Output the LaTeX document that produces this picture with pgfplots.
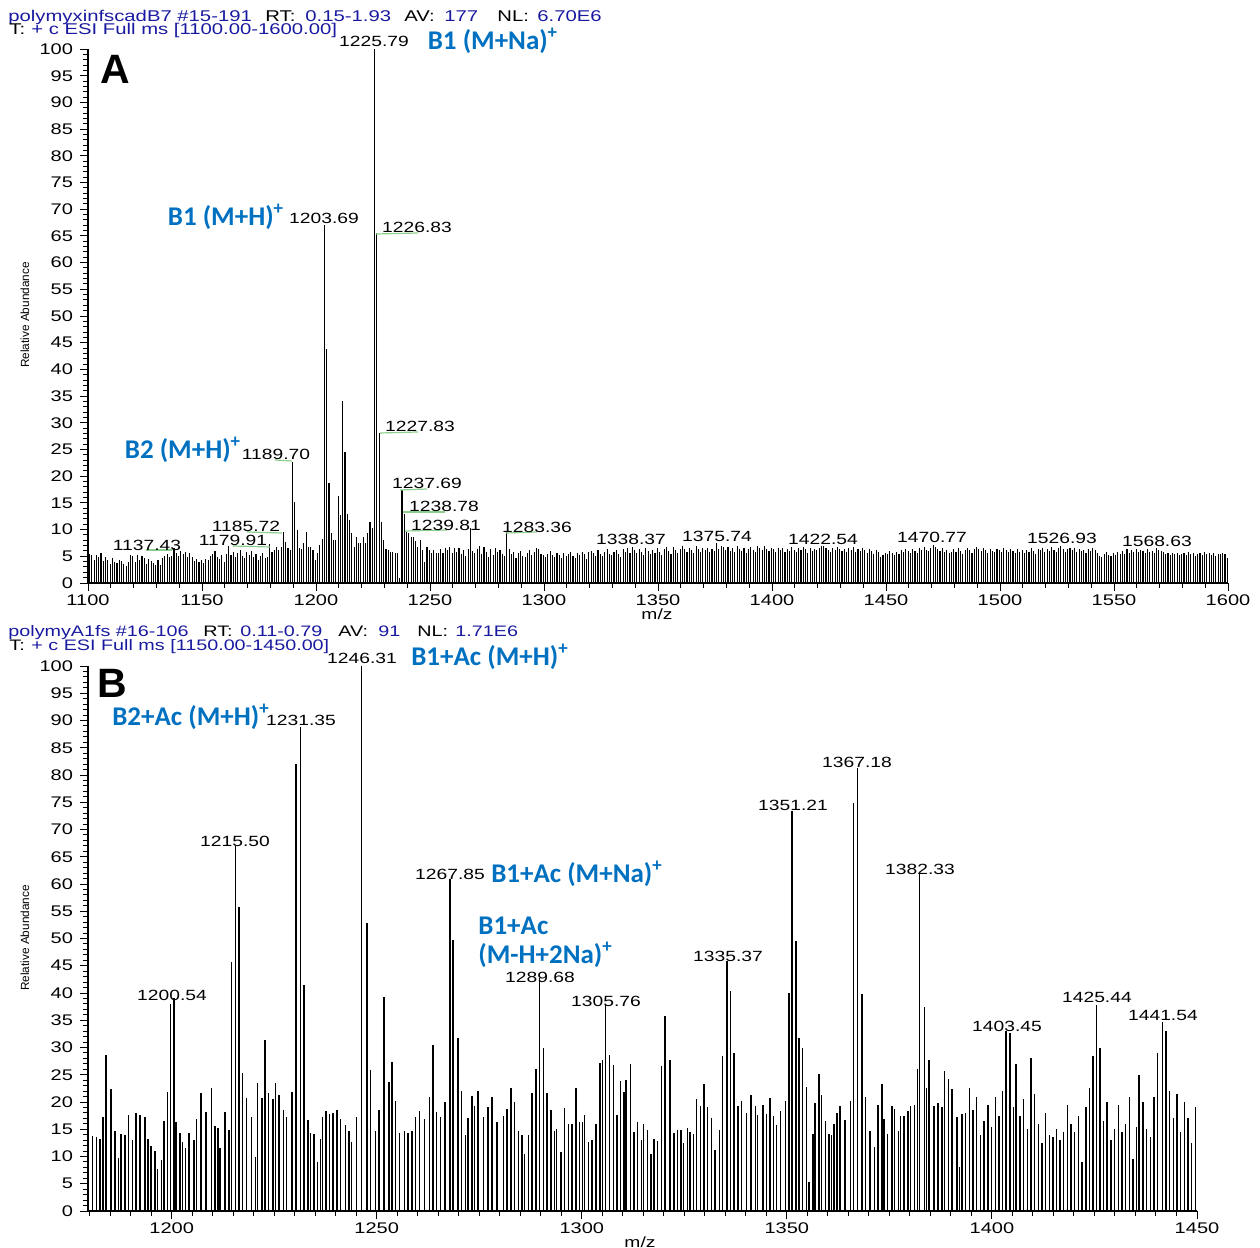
\documentclass[border=0pt]{standalone}
\usepackage{pgfplots}
\pgfplotsset{compat=1.18}
\usepackage{pgfplotstable}
\usepackage{fontspec}
\setmainfont{Liberation Sans}
\newfontfamily\widefont[FakeStretch=1.3]{Liberation Sans}
\newfontfamily\annfont{Carlito}
\definecolor{annblue}{HTML}{0070C0}
\definecolor{hdrblue}{HTML}{1A1AA0}
\definecolor{leadgreen}{HTML}{8CCF8C}
\newcommand\tickf{\widefont\fontsize{7.7bp}{9bp}\selectfont}
\newcommand\labf{\widefont\fontsize{7.4bp}{9bp}\selectfont}
\newcommand\hdrAf{\widefont\fontsize{7.8bp}{9bp}\selectfont}
\newcommand\hdrBf{\widefont\fontsize{7.6bp}{9bp}\selectfont}
\newcommand\annf{\annfont\bfseries\fontsize{13.5bp}{16bp}\selectfont}

% panel A: one intensity per m/z step, starting at 1100.7
\pgfplotstableread[row sep=\\, header=false]{
5.5\\5.2\\4.4\\5.3\\4.8\\5.6\\4.1\\4.9\\4.4\\3.6\\
4.6\\4.0\\3.8\\4.3\\4.1\\3.6\\3.1\\4.0\\5.2\\5.0\\
3.9\\5.3\\4.4\\5.0\\4.7\\3.6\\4.5\\4.2\\3.8\\3.3\\
4.4\\3.3\\4.6\\5.0\\5.5\\4.8\\5.1\\6.5\\5.7\\5.0\\
6.0\\5.4\\5.8\\4.9\\5.6\\4.8\\4.2\\4.5\\4.0\\4.3\\
3.8\\4.5\\4.3\\5.0\\5.4\\6.0\\4.9\\4.5\\5.2\\4.0\\
5.5\\6.9\\5.3\\5.8\\4.8\\5.6\\6.2\\5.1\\4.7\\5.9\\
5.3\\6.0\\4.8\\5.5\\4.4\\5.1\\5.7\\4.6\\4.9\\7.3\\
5.9\\6.2\\6.8\\6.2\\6.8\\9.6\\7.7\\6.6\\6.2\\22.7\\
15.2\\9.9\\6.6\\6.4\\7.5\\9.5\\6.8\\6.8\\6.2\\4.3\\
5.6\\7.1\\8.2\\67\\43.8\\18.8\\9.3\\8.1\\8.1\\16.3\\
12.8\\34\\24.6\\13\\11.8\\9.3\\6.8\\8.7\\7.5\\7.5\\
8.7\\7.5\\9.3\\11.5\\10.3\\100\\65.5\\28\\11.5\\8.1\\
6.4\\6.2\\5.9\\5.9\\5.7\\5.6\\1.0\\17.4\\13\\9.6\\
9.3\\8.7\\8.7\\7.8\\6.8\\8.1\\6.2\\4.0\\6.8\\6.2\\
5.7\\6.2\\5.7\\5.6\\6.3\\5.6\\6.5\\6.2\\6.8\\5.6\\
6.5\\5.9\\6.6\\5.4\\6.2\\5.0\\6.4\\10.3\\6.0\\5.7\\
6.3\\6.9\\5.5\\6.8\\5.8\\4.9\\6.3\\5.2\\6.5\\5.9\\
6.2\\5.4\\5.0\\9.5\\6.3\\5.4\\5.8\\4.7\\5.6\\6.0\\
5.1\\4.8\\5.7\\6.1\\5.3\\5.9\\6.6\\6.4\\5.5\\5.2\\
4.8\\5.5\\6.0\\5.2\\4.9\\5.7\\5.3\\4.6\\5.6\\5.0\\
5.4\\5.9\\5.1\\4.7\\5.6\\5.2\\5.8\\5.5\\4.5\\5.9\\
6.0\\5.6\\5.1\\6.2\\5.4\\5.0\\5.9\\6.4\\5.5\\5.2\\
5.8\\6.1\\5.5\\4.8\\6.3\\5.9\\6.5\\5.6\\6.8\\6.2\\
5.7\\6.4\\5.9\\5.3\\6.6\\6.0\\5.4\\6.2\\5.6\\6.5\\
5.9\\5.2\\6.3\\6.8\\6.0\\5.5\\6.7\\6.1\\5.6\\6.3\\
7.0\\6.4\\5.8\\6.6\\6.2\\5.7\\6.9\\6.3\\5.9\\6.5\\
6.1\\6.6\\5.8\\6.4\\6.0\\7.5\\6.3\\7.0\\6.8\\6.2\\
6.7\\6.0\\6.5\\5.9\\6.9\\6.3\\6.0\\6.6\\5.7\\6.4\\
6.8\\6.2\\5.8\\7.0\\6.5\\6.1\\6.9\\6.4\\6.0\\6.6\\
6.3\\5.8\\6.5\\6.2\\6.6\\5.9\\6.4\\6.0\\6.7\\6.2\\
5.9\\6.5\\6.1\\6.8\\6.3\\5.7\\6.6\\6.0\\6.4\\6.2\\
6.6\\6.9\\7.0\\6.5\\6.2\\5.9\\6.5\\6.1\\6.7\\6.3\\
6.0\\6.4\\5.8\\6.5\\6.2\\6.7\\5.9\\6.3\\6.0\\6.6\\
6.2\\5.7\\6.4\\6.0\\5.5\\6.1\\5.8\\4.9\\5.3\\5.7\\
5.4\\6.0\\5.6\\5.2\\5.9\\5.5\\6.2\\5.8\\6.3\\6.0\\
5.7\\6.4\\6.0\\5.6\\6.5\\6.1\\6.7\\6.2\\6.0\\6.6\\
7.2\\6.8\\6.3\\6.0\\6.5\\5.8\\6.2\\5.6\\5.9\\6.3\\
5.8\\6.5\\6.0\\5.5\\6.2\\6.6\\6.1\\5.7\\6.4\\6.8\\
6.3\\6.0\\6.6\\6.1\\5.7\\6.4\\6.0\\5.8\\6.3\\6.2\\
5.9\\6.5\\6.2\\5.8\\6.4\\6.0\\5.6\\6.3\\5.9\\6.1\\
5.6\\6.2\\5.8\\6.5\\6.0\\5.5\\6.3\\6.1\\6.6\\5.9\\
6.4\\6.0\\6.7\\6.2\\5.8\\6.5\\7.0\\6.3\\5.9\\6.4\\
6.6\\6.1\\6.5\\5.9\\6.3\\6.0\\6.2\\5.7\\6.4\\6.0\\
6.5\\6.2\\5.6\\5.1\\4.8\\5.5\\5.9\\5.3\\5.0\\5.6\\
5.2\\5.8\\5.4\\6.0\\5.5\\6.3\\5.7\\6.1\\5.9\\6.4\\
5.8\\6.2\\6.0\\5.6\\6.3\\5.9\\6.0\\5.7\\6.6\\6.1\\
6.0\\5.8\\5.5\\5.6\\5.3\\5.7\\5.4\\5.6\\5.2\\5.5\\
5.6\\5.3\\5.8\\5.4\\5.7\\5.0\\5.5\\5.6\\5.2\\5.8\\
5.4\\5.7\\5.3\\5.6\\5.0\\5.5\\5.4\\5.6\\5.5\\4.7\\
}\specA

% panel B: m/z and relative abundance
\pgfplotstableread{
mz int
1179.7 11.7
1180.7 13.8
1181.6 13.5
1182.5 13.2
1183.3 17.3
1184.0 28.6
1185.2 22.3
1186.2 14.7
1187.1 9.7
1187.6 14.2
1188.6 14.0
1189.5 17.7
1190.4 13.0
1191.3 17.9
1192.3 17.7
1193.5 17.3
1194.2 13.3
1195.0 12.0
1195.9 11.1
1196.6 7.8
1197.5 9.3
1198.1 16.6
1199.0 21.9
1199.7 37.9
1200.54 39.0
1201.1 16.3
1202.0 14.4
1202.7 12.6
1203.3 11.5
1204.2 14.3
1205.4 13.0
1206.0 16.8
1207.2 21.6
1208.4 18.1
1209.7 22.5
1210.6 15.6
1211.3 15.2
1211.8 11.6
1213.0 18.2
1214.0 14.9
1214.6 45.6
1215.5 67.0
1216.4 55.7
1217.3 25.3
1218.3 20.7
1219.4 17.2
1220.4 10.0
1221.0 23.5
1222.0 20.7
1222.8 31.4
1223.6 21.7
1224.7 20.5
1225.3 23.5
1226.2 21.3
1227.2 18.6
1228.0 17.2
1229.3 21.9
1230.3 82.0
1231.35 88.9
1232.3 41.5
1233.2 16.7
1233.9 14.4
1234.7 14.1
1235.6 9.0
1236.3 13.2
1236.8 17.3
1237.6 18.4
1238.5 17.8
1239.3 18.0
1240.3 18.6
1241.2 16.8
1242.4 15.8
1243.2 14.6
1243.9 12.7
1245.1 17.2
1246.31 100
1247.6 52.9
1248.5 25.9
1249.7 14.7
1250.6 18.6
1251.8 39.3
1253.0 23.7
1253.7 27.4
1254.6 20.1
1255.5 14.4
1256.7 14.6
1257.6 14.3
1258.6 14.6
1259.5 17.3
1260.4 18.4
1261.6 16.8
1262.8 20.9
1263.7 30.4
1264.6 18.2
1265.6 17.2
1266.6 20.0
1267.85 61.0
1268.6 49.7
1269.8 31.7
1270.7 22.0
1271.7 14.0
1272.3 17.0
1273.2 21.1
1273.9 19.3
1274.7 22.0
1276.0 17.3
1277.1 19.0
1278.1 21.0
1279.3 16.3
1280.9 17.5
1281.8 18.7
1282.7 22.5
1283.6 20.0
1284.5 14.6
1285.4 14.0
1286.1 10.4
1287.0 14.0
1287.9 21.6
1288.8 26.0
1289.68 42.7
1290.6 29.9
1291.5 21.7
1292.5 18.6
1293.3 14.6
1293.9 15.0
1294.9 10.9
1295.8 18.9
1296.8 16.0
1297.6 16.0
1298.6 22.5
1299.5 16.4
1300.1 16.3
1300.7 17.6
1301.6 12.6
1302.5 13.0
1303.5 16.0
1304.4 27.2
1305.0 27.8
1305.76 38.0
1306.8 28.6
1307.7 26.7
1308.6 17.6
1309.5 23.9
1310.3 21.9
1310.8 24.0
1311.8 26.9
1312.7 14.5
1313.6 16.4
1314.5 13.0
1315.1 15.9
1316.0 14.9
1316.9 10.5
1317.6 13.2
1318.5 12.9
1319.4 26.6
1320.3 35.8
1321.5 27.8
1322.5 14.4
1323.4 14.9
1324.2 14.9
1324.8 12.4
1325.8 15.2
1326.4 14.5
1327.3 14.1
1328.0 20.5
1328.9 19.2
1329.8 23.3
1330.6 19.1
1331.6 17.0
1332.5 11.2
1333.5 14.8
1334.3 28.4
1335.37 45.9
1336.2 40.4
1337.1 29.0
1338.1 19.3
1338.9 20.2
1340.2 18.0
1341.3 21.3
1342.3 19.2
1342.9 17.6
1344.2 19.5
1345.0 17.8
1345.9 20.7
1346.8 17.5
1347.5 15.8
1348.4 18.4
1349.6 20.1
1350.5 40.0
1351.21 73.4
1352.2 49.6
1353.0 31.7
1353.8 30.0
1354.8 22.8
1355.4 5.4
1356.4 14.1
1356.9 19.9
1357.8 25.2
1358.5 21.3
1359.4 16.5
1360.3 14.2
1360.9 14.0
1361.5 16.0
1362.2 18.0
1363.0 19.2
1364.2 16.7
1365.5 20.1
1366.3 74.9
1367.18 81.3
1368.3 39.8
1369.2 21.0
1370.3 14.6
1371.3 11.7
1372.2 19.4
1373.2 23.3
1373.7 16.9
1374.6 14.1
1375.6 19.2
1376.2 18.8
1377.2 14.7
1377.7 17.5
1378.6 17.5
1379.5 18.4
1380.2 19.2
1381.1 19.5
1381.9 26.0
1382.4 62.0
1383.5 37.5
1384.1 22.6
1384.7 27.7
1385.9 19.2
1386.8 19.9
1387.8 19.0
1388.4 25.6
1389.4 24.3
1390.3 22.3
1391.5 17.2
1392.1 8.0
1392.7 17.8
1393.6 17.9
1394.5 22.6
1395.4 18.5
1396.3 21.0
1397.2 14.0
1398.1 16.5
1399.0 19.5
1399.9 15.5
1400.8 21.0
1401.7 17.5
1402.6 22.0
1403.45 33.0
1404.4 32.7
1405.3 19.0
1405.9 27.0
1406.8 17.5
1407.7 20.5
1408.6 15.0
1409.5 28.0
1410.4 21.5
1411.3 16.0
1412.2 12.5
1413.1 18.0
1414.0 14.0
1414.9 13.5
1415.7 15.0
1416.6 13.0
1417.5 14.5
1418.4 19.5
1419.3 16.0
1420.2 14.5
1421.1 17.5
1422.0 9.0
1422.9 19.0
1423.8 22.5
1424.6 28.5
1425.44 37.8
1426.3 30.0
1427.2 16.5
1428.1 20.0
1429.0 13.0
1429.9 15.0
1430.8 19.5
1431.7 14.5
1432.6 16.0
1433.5 21.0
1434.4 9.5
1435.3 15.5
1435.9 25.0
1436.8 20.0
1437.7 15.0
1438.6 13.5
1439.5 21.0
1440.4 29.0
1441.54 34.7
1442.4 33.0
1443.3 22.0
1444.2 17.0
1445.1 21.5
1446.0 14.5
1446.9 20.0
1447.8 17.0
1448.7 12.5
1449.6 19.0
}\specB

\pgfplotsset{
  msaxis/.style={
    anchor=south west, scale only axis,
    ymin=0, ymax=100, ytick={0,5,...,100}, minor y tick num=4,
    axis lines*=left, clip=false,
    tick align=outside,
    major tick length=4bp, minor tick length=2.5bp,
    every tick/.style={black, line width=0.5bp},
    axis line style={black, line width=0.6bp},
    ticklabel style={font=\tickf},
    xticklabel style={yshift=1.6bp},
    /pgf/number format/assume math mode=true,
    /pgf/number format/1000 sep={},
  }
}

\begin{document}
\begin{tikzpicture}
\useasboundingbox (0,0) rectangle (630bp,-624bp);

\begin{axis}[msaxis, at={(44bp,-291.5bp)}, width=570bp, height=267bp,
  xmin=1100, xmax=1600, xtick={1100,1150,...,1600}, minor x tick num=4]
\addplot[ycomb, black, line width=0.55bp] table[x expr=\coordindex+1100.7, y index=0] {\specA};
\end{axis}

\begin{axis}[msaxis, at={(44bp,-605.5bp)}, width=554.5bp, height=272.5bp,
  xmin=1179.6, xmax=1450, xtick={1200,1250,...,1450}, minor xtick={1180,1185,...,1450}]
\addplot[ycomb, black, line width=0.7bp] table[x=mz, y=int] {\specB};
\end{axis}

% text in image pixel coordinates (1 px = 0.5bp, y downwards)
\begin{scope}[x=0.5bp, y=-0.5bp, every node/.style={inner sep=0pt}]
% headers
\begin{scope}[every node/.style={anchor=base west, inner sep=0pt, font=\hdrAf}]
\node[text=hdrblue] at (8,21) {polymyxinfscadB7 \#15-191};
\node at (265,21) {RT:};
\node[text=hdrblue] at (305,21) {0.15-1.93};
\node at (404,21) {AV:};
\node[text=hdrblue] at (444,21) {177};
\node at (497,21) {NL:};
\node[text=hdrblue] at (537,21) {6.70E6};
\node at (9,34) {T:};
\node[text=hdrblue] at (31,34) {+ c ESI Full ms [1100.00-1600.00]};
\end{scope}
\begin{scope}[every node/.style={anchor=base west, inner sep=0pt, font=\hdrBf}]
\node[text=hdrblue] at (8,637) {polymyA1fs \#16-106};
\node at (203,637) {RT:};
\node[text=hdrblue] at (240,637) {0.11-0.79};
\node at (338,637) {AV:};
\node[text=hdrblue] at (378,637) {91};
\node at (417,637) {NL:};
\node[text=hdrblue] at (455,637) {1.71E6};
\node at (9,651) {T:};
\node[text=hdrblue] at (31,651) {+ c ESI Full ms [1150.00-1450.00]};
\end{scope}
% axis titles
\node[rotate=90, font=\fontsize{5.9bp}{7bp}\selectfont] at (25,315) {Relative Abundance};
\node[rotate=90, font=\fontsize{5.9bp}{7bp}\selectfont] at (25,938) {Relative Abundance};
\node[font=\labf] at (657,614) {m/z};
\node[font=\labf] at (640,1242) {m/z};
% panel letters
\node[font=\bfseries\fontsize{20.5bp}{24bp}\selectfont] at (115,69) {A};
\node[font=\bfseries\fontsize{20.5bp}{24bp}\selectfont] at (112,683) {B};
% leader lines panel A
\begin{scope}[leadgreen, line width=0.6bp]
\draw (376,234) -- (418,233);
\draw (380,433) -- (418,432);
\draw (275,460) -- (292,461);
\draw (400,490) -- (427,489);
\draw (403,512) -- (445,512);
\draw (405,531) -- (447,530);
\draw (506,533) -- (537,532);
\draw (247,532) -- (282,533);
\draw (233,546) -- (270,547);
\draw (146,550) -- (172,550);
\end{scope}
% peak labels panel A
\begin{scope}[every node/.style={inner sep=0pt, font=\labf}]
\node at (374,41) {1225.79};
\node at (324,218) {1203.69};
\node at (417,227) {1226.83};
\node at (420,426) {1227.83};
\node at (276,454) {1189.70};
\node at (427,483) {1237.69};
\node at (444,506) {1238.78};
\node at (446,525) {1239.81};
\node at (537,527) {1283.36};
\node at (246,526) {1185.72};
\node at (233,540) {1179.91};
\node at (147,545) {1137.43};
\node at (631,539) {1338.37};
\node at (717,536) {1375.74};
\node at (823,539) {1422.54};
\node at (932,537) {1470.77};
\node at (1062,538) {1526.93};
\node at (1157,541) {1568.63};
% peak labels panel B
\node at (362,658) {1246.31};
\node at (301,720) {1231.35};
\node at (235,841) {1215.50};
\node at (172,995) {1200.54};
\node at (450,874) {1267.85};
\node at (540,977) {1289.68};
\node at (606,1001) {1305.76};
\node at (728,956) {1335.37};
\node at (793,805) {1351.21};
\node at (857,762) {1367.18};
\node at (920,869) {1382.33};
\node at (1007,1026) {1403.45};
\node at (1097,997) {1425.44};
\node at (1163,1015) {1441.54};
\end{scope}
% blue annotations
\begin{scope}[every node/.style={inner sep=0pt, font=\annf, text=annblue}]
\node at (493,41) {B1 (M+Na)\textsuperscript{+}};
\node at (226,217) {B1 (M+H)\textsuperscript{+}};
\node at (183,450) {B2 (M+H)\textsuperscript{+}};
\node at (490,657) {B1+Ac (M+H)\textsuperscript{+}};
\node at (191,717) {B2+Ac (M+H)\textsuperscript{+}};
\node at (577,874) {B1+Ac (M+Na)\textsuperscript{+}};
\node[anchor=west] at (478,926) {B1+Ac};
\node[anchor=west] at (478,955) {(M-H+2Na)\textsuperscript{+}};
\end{scope}
\end{scope}
\end{tikzpicture}
\end{document}
